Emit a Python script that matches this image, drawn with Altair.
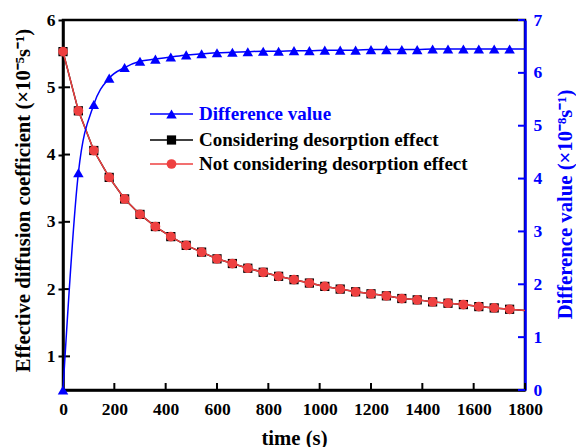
import altair as alt
import pandas as pd

FONT = "Liberation Serif"

time_s = [0, 60, 120, 180, 240, 300, 360, 420, 480, 540, 600, 660, 720, 780, 840,
          900, 960, 1020, 1080, 1140, 1200, 1260, 1320, 1380, 1440, 1500, 1560, 1620,
          1680, 1740, 1800]
not_considering = [5.53, 4.65, 4.06, 3.66, 3.34, 3.11, 2.93, 2.78, 2.65, 2.55, 2.45,
                   2.38, 2.31, 2.25, 2.19, 2.14, 2.09, 2.04, 2.00, 1.96, 1.93, 1.90,
                   1.86, 1.84, 1.81, 1.79, 1.77, 1.74, 1.72, 1.70, 1.68]
considering = [5.53, 4.65, 4.06, 3.66, 3.34, 3.11, 2.93, 2.78, 2.65, 2.55, 2.45,
               2.38, 2.31, 2.25, 2.19, 2.14, 2.09, 2.04, 2.00, 1.96, 1.93, 1.90,
               1.86, 1.84, 1.81, 1.79, 1.77, 1.74, 1.72, 1.70, 1.68]
difference = [0.00, 4.11, 5.40, 5.90, 6.10, 6.22, 6.26, 6.30, 6.34, 6.36, 6.38,
              6.39, 6.40, 6.41, 6.41, 6.42, 6.42, 6.43, 6.43, 6.43, 6.44, 6.44,
              6.44, 6.44, 6.45, 6.45, 6.45, 6.45, 6.45, 6.45, 6.45]

x_ticks = [0, 200, 400, 600, 800, 1000, 1200, 1400, 1600, 1800]
left_ticks = [1, 2, 3, 4, 5, 6]
right_ticks = [0, 1, 2, 3, 4, 5, 6, 7]
legend_labels = ["Difference value", "Considering desorption effect",
                 "Not considering desorption effect"]

x_title = "time (s)"
left_title = "Effective diffusion coefficient (×10⁻⁵s⁻¹)"
right_title = "Difference value (×10⁻⁸s⁻¹)"

RED = "#EE4040"
BLUE = "#0000FF"
LABEL_SIZE = 17.5
TITLE_SIZE = 20.7
LEGEND_SIZE = 19

df = pd.DataFrame({"t": time_s, "nc": not_considering, "c": considering, "d": difference})
xt = pd.DataFrame({"t": x_ticks})
lt = pd.DataFrame({"c": left_ticks})
rt = pd.DataFrame({"d": right_ticks})

x_scale = alt.Scale(domain=[0, 1800], nice=False)
yl_scale = alt.Scale(domain=[0.5, 6], nice=False)
yr_scale = alt.Scale(domain=[0, 7], nice=False)

x_axis = alt.Axis(title=x_title, values=x_ticks, format="d", ticks=False, grid=False,
                  domainColor="black", domainWidth=2.5, labelFlush=False,
                  labelFont=FONT, labelFontSize=LABEL_SIZE, labelFontWeight="bold",
                  labelColor="black", labelPadding=10,
                  titleFont=FONT, titleFontSize=TITLE_SIZE, titleFontWeight="bold",
                  titleColor="black", titleY=48, titleBaseline="middle")

yl_axis = alt.Axis(orient="left", title=left_title, values=left_ticks, grid=False,
                   tickSize=5, tickWidth=2, tickColor="black",
                   domainColor="black", domainWidth=2.5, labelFlush=False,
                   labelFont=FONT, labelFontSize=LABEL_SIZE, labelFontWeight="bold",
                   labelColor="black", labelPadding=3,
                   titleFont=FONT, titleFontSize=TITLE_SIZE, titleFontWeight="bold",
                   titleColor="black", titleX=-40, titleY=180, titleAngle=270,
                   titleAlign="center", titleBaseline="middle")

yr_axis = alt.Axis(orient="right", title=right_title, values=right_ticks, grid=False,
                   ticks=False, domainColor=BLUE, domainWidth=2.5, labelFlush=False,
                   labelFont=FONT, labelFontSize=LABEL_SIZE, labelFontWeight="bold",
                   labelColor=BLUE, labelPadding=8,
                   titleFont=FONT, titleFontSize=TITLE_SIZE, titleFontWeight="bold",
                   titleColor=BLUE, titleX=40, titleY=184, titleAngle=270,
                   titleAlign="center", titleBaseline="middle")

X = alt.X("t:Q", scale=x_scale, axis=x_axis)
YL = lambda f: alt.Y(f"{f}:Q", scale=yl_scale, axis=yl_axis)
YR = lambda f: alt.Y(f"{f}:Q", scale=yr_scale, axis=yr_axis)

base = alt.Chart(df)
marker_base = base.transform_filter("datum.t < 1800")

black_line = base.mark_line(color="black", strokeWidth=1.5).encode(x=X, y=YL("c"))
black_pts = marker_base.mark_point(shape="square", filled=True, size=85, color="black",
                                   opacity=1).encode(x=X, y=YL("c"))
red_line = base.mark_line(color=RED, strokeWidth=1.5).encode(x=X, y=YL("nc"))
red_pts = marker_base.mark_point(shape="circle", filled=True, size=95, color=RED,
                                 opacity=1).encode(x=X, y=YL("nc"))
left_in_ticks = alt.Chart(lt).mark_rule(color="black", strokeWidth=2).encode(
    y=YL("c"), x=alt.value(0), x2=alt.value(7))
bottom_in_ticks = alt.Chart(xt).mark_rule(color="black", strokeWidth=2).encode(
    x=X, y=alt.value(363), y2=alt.value(370))

left_group = alt.layer(black_line, black_pts, red_line, red_pts, left_in_ticks, bottom_in_ticks)

blue_line = base.mark_line(color=BLUE, strokeWidth=1.5, interpolate="monotone").encode(
    x=X, y=YR("d"))
blue_pts = marker_base.mark_point(shape="triangle-up", filled=True, size=110, color=BLUE,
                                  opacity=1).encode(x=X, y=YR("d"))
right_in_ticks = alt.Chart(rt).mark_rule(color=BLUE, strokeWidth=2).encode(
    y=YR("d"), x=alt.value(455), x2=alt.value(462))

right_group = alt.layer(blue_line, blue_pts, right_in_ticks)

# manual legend
legend_layers = []
leg_colors = [BLUE, "black", RED]
leg_shapes = ["triangle-up", "square", "circle"]
leg_sizes = [110, 85, 95]
leg_text_colors = [BLUE, "black", "black"]
leg_y = [94, 120, 144]
for lab, col, shp, sz, tc, yy in zip(legend_labels, leg_colors, leg_shapes, leg_sizes,
                                     leg_text_colors, leg_y):
    ld = pd.DataFrame({"label": [lab]})
    legend_layers.append(alt.Chart(ld).mark_rule(color=col, strokeWidth=1.5).encode(
        x=alt.value(87), x2=alt.value(130), y=alt.value(yy)))
    legend_layers.append(alt.Chart(ld).mark_point(shape=shp, filled=True, size=sz, color=col,
                                                  opacity=1).encode(
        x=alt.value(108.5), y=alt.value(yy)))
    legend_layers.append(alt.Chart(ld).mark_text(align="left", baseline="middle", font=FONT,
                                                 fontSize=LEGEND_SIZE, fontWeight="bold",
                                                 color=tc).encode(
        x=alt.value(136), y=alt.value(yy), text=alt.Text("label:N")))

chart = alt.layer(left_group, right_group, *legend_layers).resolve_scale(
    y="independent"
).properties(
    width=462, height=370,
    autosize=alt.AutoSizeParams(type="none"),
    padding={"left": 63, "top": 20, "right": 51, "bottom": 57},
    background="white",
).configure_view(stroke="black", strokeWidth=2.5)

chart.save("out.html", embed_options={"renderer": "svg", "actions": False})
